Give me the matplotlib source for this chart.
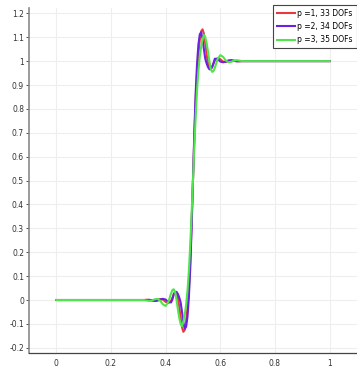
import matplotlib
matplotlib.use("Agg")
import matplotlib.pyplot as plt

# ---- series data (x, solution) for the three polynomial orders ----
x_p1 = [0.0, 0.25, 0.30, 0.32, 0.33, 0.34, 0.35, 0.36, 0.37, 0.38, 0.39, 0.40, 0.41, 0.42,
        0.425, 0.43, 0.435, 0.44, 0.445, 0.45, 0.455, 0.46, 0.465, 0.47, 0.475, 0.48, 0.485,
        0.49, 0.495, 0.50, 0.505, 0.51, 0.515, 0.52, 0.525, 0.53, 0.535, 0.54, 0.545, 0.55,
        0.555, 0.56, 0.565, 0.57, 0.575, 0.58, 0.59, 0.60, 0.61, 0.62, 0.63, 0.64, 0.65,
        0.66, 0.67, 0.68, 0.70, 0.75, 1.0]
u_p1 = [0.0, 0.0, 0.0, 0.0, 0.001, 0.0, -0.002, -0.003, 0.0, 0.004, 0.002, -0.008, -0.012, -0.003,
        0.010, 0.025, 0.032, 0.028, 0.010, -0.030, -0.075, -0.115, -0.133, -0.125, -0.090, -0.030, 0.050,
        0.160, 0.320, 0.500, 0.680, 0.840, 0.950, 1.030, 1.090, 1.125, 1.133, 1.115, 1.075, 1.030,
        0.990, 0.972, 0.968, 0.975, 0.990, 1.003, 1.012, 1.008, 0.998, 0.996, 1.0, 1.003, 1.002,
        1.0, 0.999, 1.0, 1.0, 1.0, 1.0]

x_p2 = x_p1
u_p2 = [0.0, 0.0, 0.0, 0.0, 0.0, 0.001, -0.001, -0.004, -0.003, 0.002, 0.005, 0.002, -0.009, -0.010,
        0.003, 0.025, 0.034, 0.034, 0.025, 0.010, -0.010, -0.050, -0.095, -0.120, -0.112, -0.070, 0.010,
        0.130, 0.300, 0.500, 0.700, 0.870, 0.990, 1.070, 1.112, 1.120, 1.095, 1.050, 1.010, 0.990,
        0.975, 0.966, 0.966, 0.975, 0.990, 1.010, 1.009, 0.998, 0.995, 0.998, 1.003, 1.004, 1.001,
        0.999, 1.0, 1.0, 1.0, 1.0, 1.0]

x_p3 = x_p1
u_p3 = [0.0, 0.0, 0.0, 0.0, -0.002, -0.004, -0.002, 0.003, 0.005, -0.003, -0.018, -0.025, -0.008, 0.028,
        0.042, 0.045, 0.032, 0.0, -0.040, -0.075, -0.100, -0.110, -0.090, -0.060, -0.020, 0.040, 0.120,
        0.230, 0.360, 0.500, 0.640, 0.770, 0.880, 0.960, 1.020, 1.060, 1.090, 1.110, 1.100, 1.075,
        1.040, 1.0, 0.968, 0.955, 0.958, 0.972, 1.008, 1.025, 1.018, 1.003, 0.995, 0.997, 1.002,
        1.004, 1.002, 1.0, 1.0, 1.0, 1.0]

labels = ["p =1, 33 DOFs", "p =2, 34 DOFs", "p =3, 35 DOFs"]
colors = ["#e63a3f", "#6a22e0", "#4ee64a"]

x_ticks = [0, 0.2, 0.4, 0.6, 0.8, 1]
x_ticklabels = ["0", "0.2", "0.4", "0.6", "0.8", "1"]
y_ticks = [-0.2, -0.1, 0, 0.1, 0.2, 0.3, 0.4, 0.5, 0.6, 0.7, 0.8, 0.9, 1, 1.1, 1.2]
y_ticklabels = ["-0.2", "-0.1", "0", "0.1", "0.2", "0.3", "0.4", "0.5", "0.6", "0.7",
                "0.8", "0.9", "1", "1.1", "1.2"]

plt.rcParams['font.family'] = ['DejaVu Sans']

fig = plt.figure(figsize=(3.57, 3.67), dpi=100)
ax = fig.add_axes([0.081, 0.038, 0.919, 0.94])

for xs, us, lab, col in zip([x_p1, x_p2, x_p3], [u_p1, u_p2, u_p3], labels, colors):
    ax.plot(xs, us, color=col, lw=1.5, label=lab, solid_joinstyle='round')

ax.set_xlim(-0.1, 1.1)
ax.set_ylim(-0.222, 1.222)
ax.set_xticks(x_ticks)
ax.set_xticklabels(x_ticklabels)
ax.set_yticks(y_ticks)
ax.set_yticklabels(y_ticklabels)

ax.grid(True, color='#eeeeee', lw=0.8)
ax.set_axisbelow(True)
for s in ['top', 'right']:
    ax.spines[s].set_visible(False)
ax.spines['left'].set_color('#8a8a8a')
ax.spines['left'].set_linewidth(1.2)
ax.spines['bottom'].set_color('#444444')
ax.spines['bottom'].set_linewidth(0.9)
ax.tick_params(axis='both', labelsize=5.5, colors='#333333', length=2, width=0.6, pad=1.5)
ax.tick_params(axis='x', length=0, pad=4)

leg = fig.legend(loc='upper right', bbox_to_anchor=(0.999, 0.986), fontsize=5.5,
                 frameon=True, fancybox=False, edgecolor='#444444', framealpha=1,
                 handlelength=2.4, handletextpad=0.3, labelspacing=0.55,
                 borderpad=0.5, borderaxespad=0)
leg.get_frame().set_linewidth(0.8)

fig.savefig("out.png", dpi=100)
